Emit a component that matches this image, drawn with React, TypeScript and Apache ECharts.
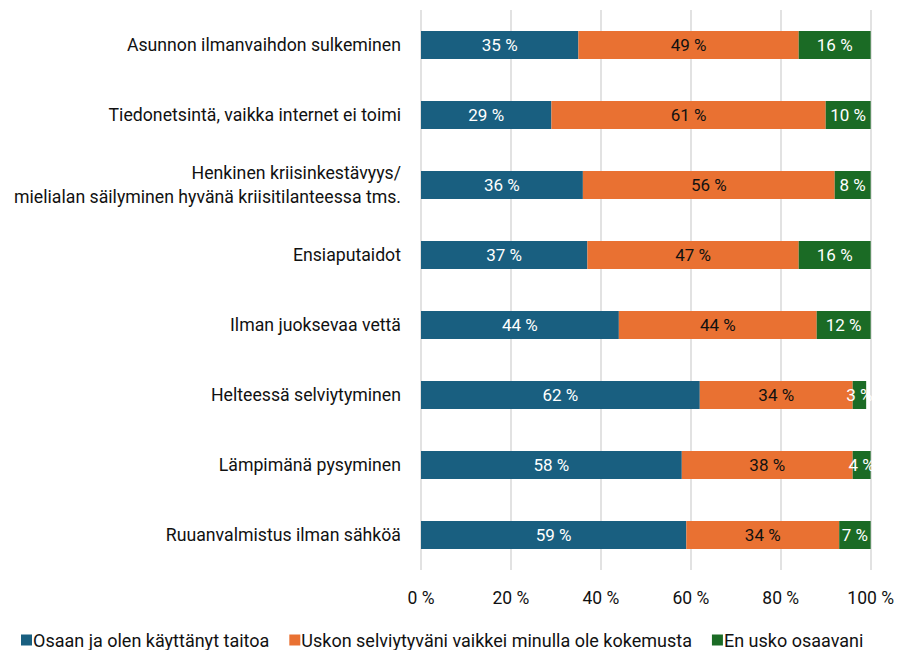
import React, { useEffect, useRef } from "react";
import * as echarts from "echarts";

const categories = [
  "Asunnon ilmanvaihdon sulkeminen",
  "Tiedonetsintä, vaikka internet ei toimi",
  "Henkinen kriisinkestävyys/\nmielialan säilyminen hyvänä kriisitilanteessa tms.",
  "Ensiaputaidot",
  "Ilman juoksevaa vettä",
  "Helteessä selviytyminen",
  "Lämpimänä pysyminen",
  "Ruuanvalmistus ilman sähköä",
];
const seriesNames = [
  "Osaan ja olen käyttänyt taitoa",
  "Uskon selviytyväni vaikkei minulla ole kokemusta",
  "En usko osaavani",
];
const osaan = [35, 29, 36, 37, 44, 62, 58, 59];
const uskon = [49, 61, 56, 47, 44, 34, 38, 34];
const enUsko = [16, 10, 8, 16, 12, 3, 4, 7];
const xTicks = [0, 20, 40, 60, 80, 100];

const colors = ["#195f80", "#e97132", "#1b6b25"];
const labelColors = ["#ffffff", "#111111", "#ffffff"];
const FONT = "Roboto";

export default function App() {
  const ref = useRef<HTMLDivElement>(null);
  useEffect(() => {
    if (!ref.current) return;
    const chart = echarts.init(ref.current, null, { renderer: "svg" });
    const data = [osaan, uskon, enUsko];
    chart.setOption({
      animation: false,
      textStyle: { fontFamily: FONT },
      grid: { left: 421, right: 26, top: 10, bottom: 80, containLabel: false },
      legend: {
        top: 626,
        left: 16,
        itemWidth: 11,
        itemHeight: 11,
        itemGap: 20,
        icon: "rect",
        textStyle: { fontFamily: FONT, fontSize: 18, color: "#111", padding: [0, 0, 0, -4] },
        data: seriesNames,
      },
      xAxis: {
        type: "value",
        min: 0,
        max: 100,
        interval: 20,
        axisLine: { show: false },
        axisTick: { show: false },
        splitLine: { lineStyle: { color: "#d9d9d9", width: 1.5 } },
        axisLabel: {
          margin: 19,
          fontFamily: FONT,
          fontSize: 17.5,
          color: "#111",
          formatter: (v: number) => (xTicks.includes(v) ? `${v} %` : ""),
        },
      },
      yAxis: {
        type: "category",
        inverse: true,
        data: categories,
        axisLine: { show: false },
        axisTick: { show: false },
        axisLabel: {
          margin: 20,
          fontFamily: FONT,
          fontSize: 17.7,
          color: "#111",
          lineHeight: 24,
          align: "right",
        },
      },
      series: seriesNames.map((name, i) => ({
        name,
        type: "bar",
        stack: "total",
        barWidth: 28,
        data: data[i],
        itemStyle: { color: colors[i] },
        label: {
          show: true,
          position: "inside",
          color: labelColors[i],
          fontFamily: FONT,
          fontSize: 17,
          formatter: (p: any) => `${p.value} %`,
        },
        labelLayout: { hideOverlap: false },
      })),
    });
    return () => chart.dispose();
  }, []);
  return (
    <div
      ref={ref}
      style={{ position: "absolute", left: 0, top: 0, width: 897, height: 650 }}
    />
  );
}
